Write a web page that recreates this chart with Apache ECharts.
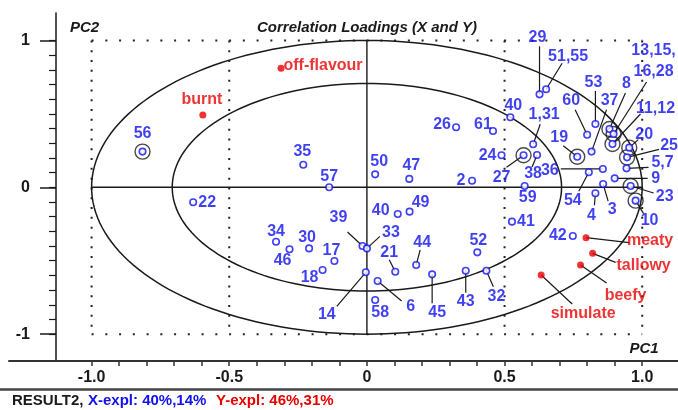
<!DOCTYPE html>
<html>
<head>
<meta charset="utf-8">
<script src="https://cdn.jsdelivr.net/npm/echarts@6/dist/echarts.min.js"></script>
<style>
  html, body { margin: 0; padding: 0; background: #fff; }
  #chart { width: 678px; height: 410px; }
</style>
</head>
<body>
<div id="chart"></div>
<script>
// ---- X-loadings (blue), PC1 / PC2 ----
const xNames = ['56','35','57','22','50','47','2','26','61','40',
  '24','27','38','1,31','29','51,55','19','60','53','37',
  '36','54','3','4','9','5,7','25','20','23','10',
  '8','13,15,\n16,28','11,12','40','49','39','33','34','46','30',
  '17','18','14','6','58','21','44','45','43','52',
  '32','41','42','59'];
const xPC1 = [-0.815,-0.231,-0.137,-0.631,0.030,0.154,0.382,0.324,0.458,0.521,
  0.489,0.569,0.618,0.604,0.627,0.651,0.764,0.800,0.830,0.816,
  0.857,0.806,0.858,0.830,0.900,0.943,0.945,0.953,0.958,0.976,
  0.881,0.896,0.892,0.112,0.155,-0.016,0.000,-0.330,-0.281,-0.210,
  -0.118,-0.161,-0.004,0.039,0.030,0.103,0.179,0.237,0.359,0.401,
  0.434,0.527,0.748,0.573];
const xPC2 = [0.243,0.154,0.000,-0.102,0.088,0.057,0.045,0.409,0.383,0.477,
  0.218,0.218,0.220,0.293,0.633,0.668,0.208,0.358,0.431,0.243,
  0.125,0.102,0.022,-0.041,0.061,0.129,0.204,0.270,0.009,-0.091,
  0.397,0.363,0.295,-0.182,-0.166,-0.400,-0.416,-0.371,-0.422,-0.416,
  -0.502,-0.563,-0.579,-0.638,-0.768,-0.575,-0.529,-0.593,-0.568,-0.443,
  -0.568,-0.234,-0.332,0.009];

// ---- Y-loadings (red), PC1 / PC2 ----
const yNames = ['burnt','off-flavour','meaty','tallowy','beefy','simulate'];
const yPC1 = [-0.596,-0.312,0.796,0.820,0.776,0.633];
const yPC2 = [0.492,0.811,-0.343,-0.450,-0.529,-0.597];

// variables drawn with an extra ring
const ringed = ['56','27','19','20','25','23','10','8','13,15,\n16,28','11,12'];

// ---- axis ticks and labels ----
const xTickValues = [-1.0,-0.9,-0.8,-0.7,-0.6,-0.5,-0.4,-0.3,-0.2,-0.1,0,
  0.1,0.2,0.3,0.4,0.5,0.6,0.7,0.8,0.9,1.0];
const xLabelValues = [-1.0,-0.5,0,0.5,1.0];
const xLabelText = ['-1.0','-0.5','0','0.5','1.0'];
const yMinorTicks = [-1.0,-0.9,-0.8,-0.7,-0.6,-0.5,-0.4,-0.3,-0.2,-0.1,0,
  0.1,0.2,0.3,0.4,0.5,0.6,0.7,0.8,0.9,1.0];
const yMajorTicks = [-1, 0, 1];
const yLabelText = ['-1','0','1'];

// correlation circles: 100% and 50% explained variance
const circleRadii = [1.0, 0.7071];
// dotted guides
const guidesV = [-1, -0.5, 0.5, 1];
const guidesH = [-1, 1];

// ---- label placement (pixel offsets from the marker) ----
const xLabelOffset = [[0,-18],[-1,-13],[0,-11],[14,0],[4,-13],[2,-13],[-11,0],[-14,-3],[-10,-6],[3,-12],
  [-14,0],[-22,22],[-4,19],[11,-30],[-2,-57],[22,-33],[-18,-19],[-16,-34],[-2,-41],[18,-51],
  [-53,2],[-16,28],[9,26],[-4,22],[41,0],[36,-6],[42,-12],[15,-13],[34,11],[14,20],
  [17,-45],[40,-73],[43,-35],[-17,-3],[11,-9],[-24,-28],[24,-16],[0,-10],[-7,11],[-2,-11],
  [-3,-10],[-13,8],[-39,42],[33,26],[5,13],[-6,-19],[6,-22],[5,38],[0,31],[1,-12],
  [10,26],[14,0],[-15,0],[3,12]];
const xLeader = [null,null,null,null,null,null,null,null,null,null,
  null,[-17,12],[-5,12],[7,-20],[0,-48],[16,-26],[-14,-11],[-12,-25],[0,-33],[15,-42],
  [-42,0],[-10,19],[5,17],[-1,12],[33,0],[22,-1],[32,-8],[9,-8],[23,7],[8,13],
  [16,-36],[33,-52],[28,-30],null,null,[-15,-14],[13,-12],null,null,null,
  null,null,[-29,34],[24,20],null,[-6,-12],[4,-15],[0,29],[0,22],null,
  [7,16],null,null,null];
const yLabelOffset = [[-1,-15],[42,-3],[64,3],[51,12],[45,31],[42,39]];
const yLeader = [null,null,[43,5],[23,9],[26,18],[31,29]];

const FONT = '"Liberation Sans", Arial, sans-serif';
const BLUE = '#1010f0';
const RED = '#e80000';
const INK = '#1a1a1a';

const blueData = xNames.map((n, i) => ({
  name: n, value: [xPC1[i], xPC2[i]], label: { offset: xLabelOffset[i] }
}));
const redData = yNames.map((n, i) => ({
  name: n, value: [yPC1[i], yPC2[i]], label: { offset: yLabelOffset[i] }
}));
const ringData = [];
xNames.forEach((n, i) => { if (ringed.includes(n)) ringData.push([xPC1[i], xPC2[i]]); });
const leaderData = [];
xNames.forEach((n, i) => { if (xLeader[i]) leaderData.push([xPC1[i], xPC2[i], xLeader[i][0], xLeader[i][1]]); });
yNames.forEach((n, i) => { if (yLeader[i]) leaderData.push([yPC1[i], yPC2[i], yLeader[i][0], yLeader[i][1]]); });

const chart = echarts.init(document.getElementById('chart'), null, { renderer: 'canvas' });

const yCommon = {
  type: 'value', min: -1.183, max: 1.187, position: 'left', offset: -47,
  splitLine: { show: false }
};

chart.setOption({
  animation: false,
  grid: { left: 9, right: 0, top: 13, bottom: 49 },
  xAxis: {
    type: 'value', min: -1.3, max: 1.13, position: 'bottom',
    axisLine: { onZero: false, lineStyle: { color: '#333', width: 2 } },
    axisTick: { customValues: xTickValues, length: 5, lineStyle: { color: '#333', width: 1.5 } },
    axisLabel: {
      customValues: xLabelValues, margin: 9,
      formatter: v => xLabelText[xLabelValues.indexOf(v)],
      fontFamily: FONT, fontWeight: 'bold', fontSize: 16, color: INK
    },
    splitLine: { show: false }
  },
  yAxis: [
    Object.assign({}, yCommon, {
      axisLine: { show: true, onZero: false, lineStyle: { color: INK, width: 1.5 } },
      axisTick: { customValues: yMajorTicks, length: 16, lineStyle: { color: INK, width: 1.5 } },
      axisLabel: {
        customValues: yMajorTicks, margin: 26,
        formatter: v => yLabelText[yMajorTicks.indexOf(v)],
        fontFamily: FONT, fontWeight: 'bold', fontSize: 16, color: INK
      }
    }),
    Object.assign({}, yCommon, {
      axisLine: { show: false, onZero: false },
      axisTick: { customValues: yMinorTicks, length: 7, lineStyle: { color: INK, width: 1.2 } },
      axisLabel: { show: false }
    })
  ],
  graphic: [
    { type: 'text', x: 70, y: 28, style: { text: 'PC2', font: 'italic bold 15px ' + FONT, fill: INK, textVerticalAlign: 'middle' } },
    { type: 'text', x: 367, y: 28, style: { text: 'Correlation Loadings (X and Y)', font: 'italic bold 15px ' + FONT, fill: INK, textAlign: 'center', textVerticalAlign: 'middle' } },
    { type: 'text', x: 644, y: 349, style: { text: 'PC1', font: 'italic bold 15px ' + FONT, fill: INK, textAlign: 'center', textVerticalAlign: 'middle' } },
    { type: 'line', shape: { x1: 0, y1: 389.5, x2: 678, y2: 389.5 }, style: { stroke: '#444', lineWidth: 2.5 } },
    { type: 'text', x: 12, y: 401, style: { text: 'RESULT2,', font: 'bold 15px ' + FONT, fill: INK, textVerticalAlign: 'middle' } },
    { type: 'text', x: 88, y: 401, style: { text: 'X-expl: 40%,14%', font: 'bold 15px ' + FONT, fill: BLUE, textVerticalAlign: 'middle' } },
    { type: 'text', x: 216, y: 401, style: { text: 'Y-expl: 46%,31%', font: 'bold 15px ' + FONT, fill: RED, textVerticalAlign: 'middle' } }
  ],
  series: [
    // dotted vertical guides
    {
      type: 'custom', silent: true, z: 1,
      data: guidesV.map(v => [v, 0]),
      renderItem(params, api) {
        const a = api.coord([api.value(0), 1]);
        const b = api.coord([api.value(0), -1]);
        return { type: 'line', shape: { x1: a[0], y1: a[1], x2: b[0], y2: b[1] },
          style: { stroke: '#222', lineWidth: 2, lineDash: [2, 7.8] } };
      }
    },
    // dotted horizontal guides
    {
      type: 'custom', silent: true, z: 1,
      data: guidesH.map(v => [0, v]),
      renderItem(params, api) {
        const a = api.coord([-1, api.value(1)]);
        const b = api.coord([1, api.value(1)]);
        return { type: 'line', shape: { x1: a[0], y1: a[1], x2: b[0], y2: b[1] },
          style: { stroke: '#222', lineWidth: 2, lineDash: [2, 11.75] } };
      }
    },
    // solid PC1 / PC2 zero lines across the unit frame
    {
      type: 'custom', silent: true, z: 2,
      data: [[0, 0]],
      renderItem(params, api) {
        const l = api.coord([-1, 0]), r = api.coord([1, 0]);
        const t = api.coord([0, 1]), b = api.coord([0, -1]);
        const s = { stroke: INK, lineWidth: 1.4 };
        return { type: 'group', children: [
          { type: 'line', shape: { x1: l[0], y1: l[1], x2: r[0], y2: r[1] }, style: s },
          { type: 'line', shape: { x1: t[0], y1: t[1], x2: b[0], y2: b[1] }, style: s }
        ] };
      }
    },
    // correlation circles
    {
      type: 'custom', silent: true, z: 2,
      data: circleRadii.map(r => [0, 0, r]),
      renderItem(params, api) {
        const r = api.value(2);
        const pts = [];
        for (let a = 0; a <= 360; a += 2) {
          const t = a * Math.PI / 180;
          pts.push(api.coord([r * Math.cos(t), r * Math.sin(t)]));
        }
        return { type: 'polyline', shape: { points: pts }, style: { stroke: INK, lineWidth: 1.5, fill: null } };
      }
    },
    // leader lines from markers to their labels
    {
      type: 'custom', silent: true, z: 3,
      data: leaderData,
      renderItem(params, api) {
        const p = api.coord([api.value(0), api.value(1)]);
        return { type: 'line',
          shape: { x1: p[0], y1: p[1], x2: p[0] + api.value(2), y2: p[1] + api.value(3) },
          style: { stroke: INK, lineWidth: 1.2 } };
      }
    },
    // rings around highlighted variables
    {
      type: 'scatter', silent: true, z: 4,
      data: ringData, symbol: 'circle', symbolSize: 15,
      itemStyle: { color: 'rgba(0,0,0,0)', borderColor: INK, borderWidth: 1.4 }
    },
    // X-loadings
    {
      type: 'scatter', silent: true, z: 5,
      data: blueData, symbol: 'circle', symbolSize: 6.5,
      itemStyle: { color: '#fff', borderColor: BLUE, borderWidth: 1.6 },
      label: {
        show: true, position: 'inside', formatter: '{b}', color: BLUE,
        fontFamily: FONT, fontWeight: 'bold', fontSize: 16, lineHeight: 21
      }
    },
    // Y-loadings
    {
      type: 'scatter', silent: true, z: 5,
      data: redData, symbol: 'circle', symbolSize: 7,
      itemStyle: { color: RED },
      label: {
        show: true, position: 'inside', formatter: '{b}', color: RED,
        fontFamily: FONT, fontWeight: 'bold', fontSize: 16
      }
    }
  ]
});
</script>
</body>
</html>
